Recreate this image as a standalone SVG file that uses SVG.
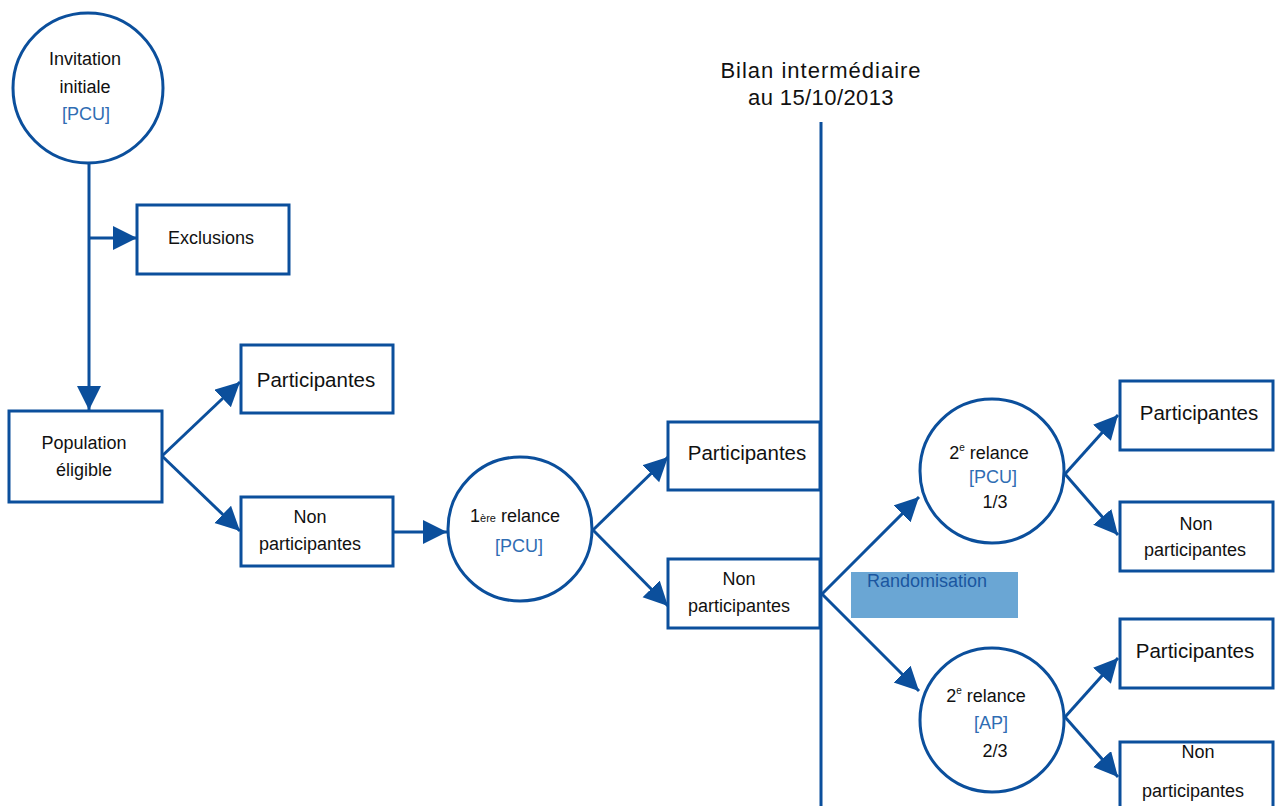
<svg xmlns="http://www.w3.org/2000/svg" width="1279" height="806" viewBox="0 0 1279 806">
<defs>
<style>
.n{fill:#fff;stroke:#0b4f9c;stroke-width:3}
.c line,.c path{stroke:#0b4f9c;stroke-width:3;fill:none}
text{font-family:"Liberation Sans",Arial,sans-serif;fill:#111;text-anchor:middle}
.s18{font-size:18px}
.s20{font-size:20.5px}
.b{fill:#2f6db3}
</style>
<marker id="a" markerUnits="userSpaceOnUse" markerWidth="26" markerHeight="26" refX="24" refY="12" orient="auto">
<path d="M0,0 L24,12 L0,24 z" fill="#0b4f9c"/>
</marker>
</defs>
<rect width="1279" height="806" fill="#fff"/>

<g id="bilan">
<text x="821" y="78" style="font-size:22px;letter-spacing:1px">Bilan intermédiaire</text>
<text x="821" y="105" style="font-size:22px;letter-spacing:0.4px">au 15/10/2013</text>
</g>

<g class="c" id="connectors">
<line x1="821" y1="122" x2="821" y2="806"/>
<line x1="89" y1="163" x2="89" y2="410" marker-end="url(#a)"/>
<line x1="89" y1="238" x2="137" y2="238" marker-end="url(#a)"/>
<line x1="162" y1="456" x2="240" y2="382" marker-end="url(#a)"/>
<line x1="162" y1="456" x2="240" y2="531" marker-end="url(#a)"/>
<line x1="393" y1="532" x2="447" y2="532" marker-end="url(#a)"/>
<line x1="593" y1="530" x2="668" y2="457" marker-end="url(#a)"/>
<line x1="593" y1="530" x2="668" y2="606" marker-end="url(#a)"/>
<line x1="822" y1="594" x2="919" y2="497" marker-end="url(#a)"/>
<line x1="822" y1="594" x2="919" y2="691" marker-end="url(#a)"/>
<line x1="1065" y1="474" x2="1118" y2="415" marker-end="url(#a)"/>
<line x1="1065" y1="474" x2="1118" y2="535" marker-end="url(#a)"/>
<line x1="1065" y1="717" x2="1118" y2="658" marker-end="url(#a)"/>
<line x1="1065" y1="717" x2="1118" y2="777" marker-end="url(#a)"/>
</g>

<g id="invitation">
<circle class="n" cx="88" cy="88" r="75"/>
<text class="s18" x="85" y="65">Invitation</text>
<text class="s18" x="85" y="93">initiale</text>
<text class="s18 b" x="86" y="120">[PCU]</text>
</g>

<g id="exclusions">
<rect class="n" x="137" y="205" width="152" height="69"/>
<text class="s18" x="211" y="244">Exclusions</text>
</g>

<g id="population">
<rect class="n" x="9" y="411" width="153" height="91"/>
<text class="s18" x="84" y="449">Population</text>
<text class="s18" x="84" y="476">éligible</text>
</g>

<g id="part1">
<rect class="n" x="241" y="345" width="152" height="68"/>
<text class="s20" x="316" y="387">Participantes</text>
</g>

<g id="nonpart1">
<rect class="n" x="241" y="497" width="152" height="69"/>
<text class="s18" x="310" y="523">Non</text>
<text class="s18" x="310" y="550">participantes</text>
</g>

<g id="relance1">
<circle class="n" cx="520" cy="529" r="72"/>
<text class="s18" x="515" y="522">1<tspan style="font-size:11px">ère</tspan> relance</text>
<text class="s18 b" x="519" y="552">[PCU]</text>
</g>

<g id="part2">
<rect class="n" x="668" y="422" width="152" height="68"/>
<text class="s20" x="747" y="460">Participantes</text>
</g>

<g id="nonpart2">
<rect class="n" x="668" y="559" width="152" height="69"/>
<text class="s18" x="739" y="585">Non</text>
<text class="s18" x="739" y="612">participantes</text>
</g>

<g id="randomisation">
<rect x="851" y="572" width="167" height="46" fill="#6aa6d4"/>
<text x="867" y="587" style="font-size:18px;fill:#1a56a0;text-anchor:start">Randomisation</text>
</g>

<g id="relance2a">
<circle class="n" cx="992" cy="471" r="72"/>
<text class="s18" x="989" y="459">2<tspan style="font-size:10px" dy="-8">e</tspan><tspan dy="8"> relance</tspan></text>
<text class="s18 b" x="993" y="483">[PCU]</text>
<text class="s18" x="995" y="508">1/3</text>
</g>

<g id="relance2b">
<circle class="n" cx="992" cy="720" r="72"/>
<text class="s18" x="986" y="702">2<tspan style="font-size:10px" dy="-8">e</tspan><tspan dy="8"> relance</tspan></text>
<text class="s18 b" x="991" y="729">[AP]</text>
<text class="s18" x="995" y="757">2/3</text>
</g>

<g id="part3">
<rect class="n" x="1120" y="381" width="153" height="69"/>
<text class="s20" x="1199" y="420">Participantes</text>
</g>

<g id="nonpart3">
<rect class="n" x="1120" y="502" width="153" height="69"/>
<text class="s18" x="1196" y="530">Non</text>
<text class="s18" x="1195" y="556">participantes</text>
</g>

<g id="part4">
<rect class="n" x="1120" y="619" width="153" height="69"/>
<text class="s20" x="1195" y="658">Participantes</text>
</g>

<g id="nonpart4">
<rect class="n" x="1120" y="742" width="153" height="80"/>
<text class="s18" x="1198" y="758">Non</text>
<text class="s18" x="1193" y="797">participantes</text>
</g>
</svg>
